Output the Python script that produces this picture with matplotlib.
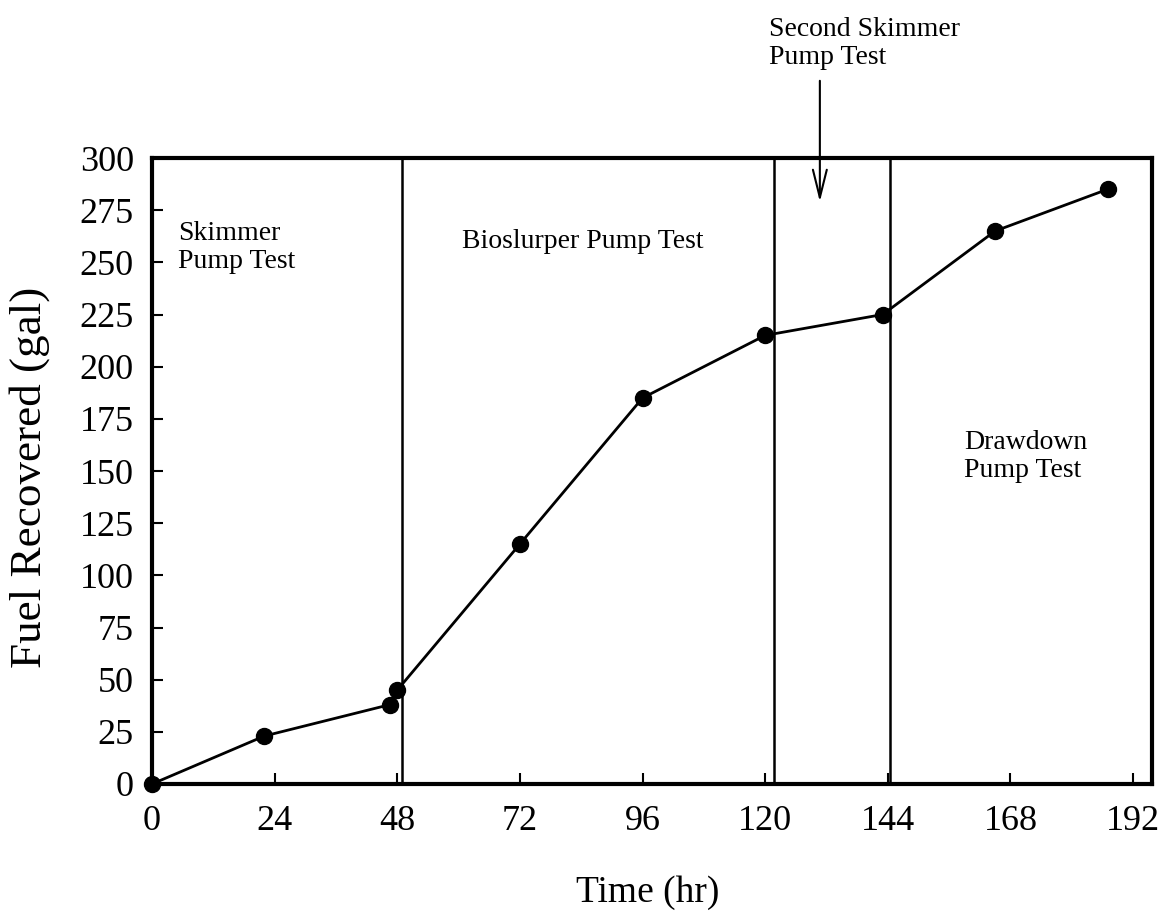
import matplotlib
matplotlib.use("Agg")
import matplotlib.pyplot as plt

# Cumulative fuel recovery
time_hr = [0, 22, 46.5, 48, 72, 96, 120, 143, 165, 187]
fuel_gal = [0, 23, 38, 45, 115, 185, 215, 225, 265, 285]

# Boundaries between test phases (hr)
phase_bounds = [49, 121.7, 144.5]
second_skimmer_time = 130.7

x_ticks = [0, 24, 48, 72, 96, 120, 144, 168, 192]
y_ticks = list(range(0, 301, 25))

plt.rcParams['font.family'] = ['Liberation Serif', 'DejaVu Serif']

W, H = 1163, 918
fig = plt.figure(figsize=(W / 100, H / 100), dpi=100)
ax = fig.add_axes([152 / W, 1 - 784 / H, 1000 / W, 626 / H])

ax.plot(time_hr, fuel_gal, color='black', lw=2, marker='o', ms=11.5,
        mfc='black', mec='black', zorder=3, clip_on=False)

for xb in phase_bounds:
    ax.axvline(xb, color='black', lw=1.8, zorder=2)

ax.set_xlim(0, 195.7)
ax.set_ylim(0, 300)
ax.set_xticks(x_ticks)
ax.set_yticks(y_ticks)
ax.tick_params(direction='in', length=8, width=1.5, labelsize=26)
ax.tick_params(axis='x', pad=15)
ax.tick_params(axis='y', pad=13)
for s in ax.spines.values():
    s.set_linewidth(3)

fig.text(648 / W, 1 - 893 / H, 'Time (hr)', fontsize=27,
         ha='center', va='center')
fig.text(30 / W, 1 - 477 / H, 'Fuel Recovered (gal)', fontsize=32.5,
         rotation=90, ha='center', va='center')

ax.text(5.1, 257, 'Skimmer\nPump Test', fontsize=20, va='center', ha='left',
        linespacing=1.15)
ax.text(60.7, 260, 'Bioslurper Pump Test', fontsize=20, va='center', ha='left')
ax.text(159, 157, 'Drawdown\nPump Test', fontsize=20, va='center', ha='left',
        linespacing=1.15)

ax.text(120.7, 355, 'Second Skimmer\nPump Test', fontsize=20, va='center',
        ha='left', linespacing=1.15, clip_on=False)
ax.annotate('', xy=(second_skimmer_time, 279), xytext=(second_skimmer_time, 337),
            arrowprops=dict(arrowstyle='->, head_length=1.0, head_width=0.25',
                            color='black', lw=1.5, mutation_scale=20,
                            shrinkA=0, shrinkB=0),
            annotation_clip=False)

fig.savefig('out.png', dpi=100)
